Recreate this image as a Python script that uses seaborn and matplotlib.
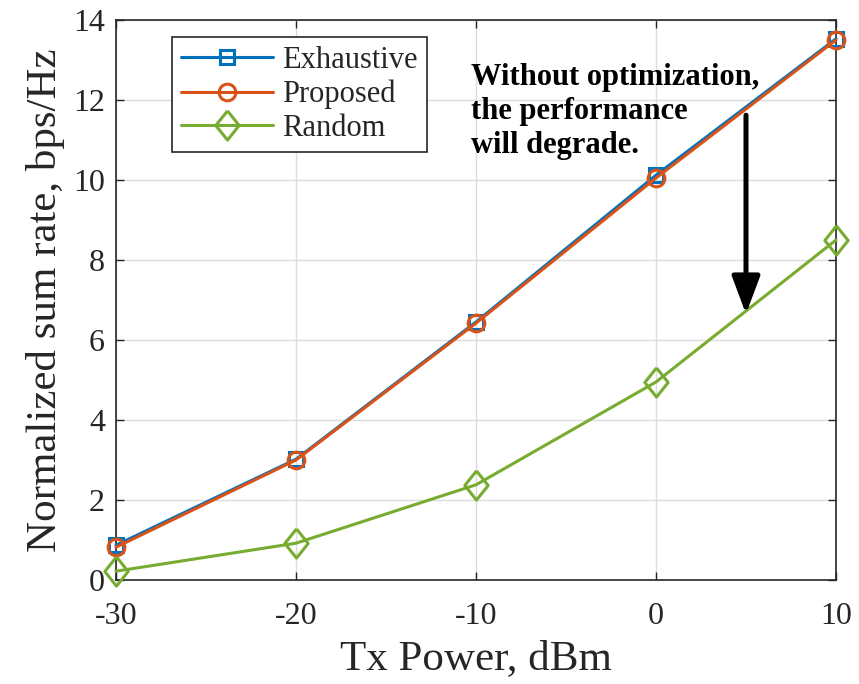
import matplotlib
matplotlib.use("Agg")
import matplotlib.pyplot as plt
import seaborn as sns
import pandas as pd

tx_power = [-30, -20, -10, 0, 10]
exhaustive = [0.87, 3.02, 6.45, 10.12, 13.53]
proposed = [0.82, 3.00, 6.42, 10.05, 13.50]
random_sel = [0.22, 0.92, 2.38, 4.95, 8.50]
series_names = ["Exhaustive", "Proposed", "Random"]

sns.set_theme(style="whitegrid")
plt.rcParams['font.family'] = ['Liberation Serif', 'DejaVu Serif']
plt.rcParams['mathtext.fontset'] = 'stix'

df = pd.DataFrame({
    "Tx": tx_power * 3,
    "Rate": exhaustive + proposed + random_sel,
    "Scheme": [series_names[0]] * 5 + [series_names[1]] * 5 + [series_names[2]] * 5,
})

diamond = [(0, 1), (0.8, 0), (0, -1), (-0.8, 0), (0, 1)]
colors = {"Exhaustive": "#0072BD", "Proposed": "#D95319", "Random": "#77AC30"}
markers = {"Exhaustive": "s", "Proposed": "o", "Random": diamond}
msize = {"Exhaustive": 10, "Proposed": 12, "Random": 21}

fig = plt.figure(figsize=(8.59, 6.84), dpi=100)
ax = fig.add_axes([116/859, 1 - 580/684, 720/859, 560/684])

for name in series_names:
    sub = df[df["Scheme"] == name]
    sns.lineplot(data=sub, x="Tx", y="Rate", ax=ax, color=colors[name], marker=markers[name],
                 markersize=msize[name], markerfacecolor="none", markeredgecolor=colors[name],
                 markeredgewidth=2.2, linewidth=2.2, label=name, clip_on=False, zorder=3)

ax.set_xlim(-30, 10)
ax.set_ylim(0, 14)
ax.set_xticks(tx_power)
ax.set_xticklabels(["-30", "-20", "-10", "0", "10"])
ax.set_yticks([0, 2, 4, 6, 8, 10, 12, 14])
ax.tick_params(axis="both", labelsize=23, direction="in", length=6, width=1,
               top=True, right=True, bottom=True, left=True, colors="#262626", labelcolor="#262626")
ax.tick_params(axis="x", pad=16)
ax.tick_params(axis="y", pad=8)
ax.set_xlabel("Tx Power, dBm", fontsize=31, color="#262626", labelpad=6)
ax.set_ylabel("Normalized sum rate, bps/Hz", fontsize=31, color="#262626", labelpad=6)
ax.grid(True, color="#dcdcdc", linewidth=1)
ax.set_facecolor("white")
for s in ax.spines.values():
    s.set_color("#262626")
    s.set_linewidth(1.2)

leg = ax.legend(loc="upper left", bbox_to_anchor=(56/720, 1 - 17/560), fontsize=22, frameon=True,
                fancybox=False, edgecolor="#262626", framealpha=1, handlelength=3.0,
                borderpad=0.3, labelspacing=0.15, handletextpad=0.3, borderaxespad=0)
leg.get_frame().set_linewidth(1.2)
leg.set_zorder(5)

ax.text(-10.3, 12.92, "Without optimization,\nthe performance\nwill degrade.", fontsize=22,
        fontweight="bold", va="top", ha="left", linespacing=1.22, color="black")
ax.annotate("", xy=(5, 6.65), xytext=(5, 11.62),
            arrowprops=dict(arrowstyle="-|>,head_width=0.43,head_length=1.15", color="black", lw=3.6,
                            shrinkA=0, shrinkB=0, mutation_scale=20))

fig.savefig("out.png", dpi=100)
